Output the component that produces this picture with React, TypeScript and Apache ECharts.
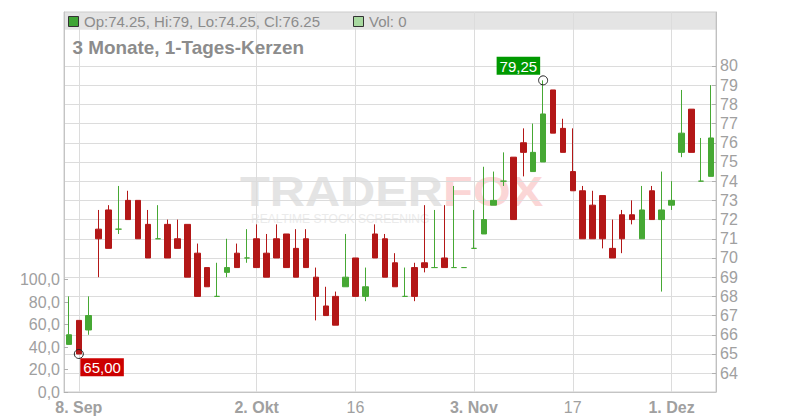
import React, { useEffect, useRef } from "react";
import * as echarts from "echarts";

const categories = [
  "2023-09-07", "2023-09-08", "2023-09-11", "2023-09-12", "2023-09-13", "2023-09-14",
  "2023-09-15", "2023-09-18", "2023-09-19", "2023-09-20", "2023-09-21", "2023-09-22",
  "2023-09-25", "2023-09-26", "2023-09-27", "2023-09-28", "2023-09-29", "2023-09-30",
  "2023-10-01", "2023-10-02", "2023-10-03", "2023-10-04", "2023-10-05", "2023-10-06",
  "2023-10-09", "2023-10-10", "2023-10-11", "2023-10-12", "2023-10-13", "2023-10-16",
  "2023-10-17", "2023-10-18", "2023-10-19", "2023-10-20", "2023-10-23", "2023-10-24",
  "2023-10-25", "2023-10-26", "2023-10-27", "2023-10-30", "2023-10-31", "2023-11-03",
  "2023-11-06", "2023-11-07", "2023-11-08", "2023-11-09", "2023-11-10", "2023-11-13",
  "2023-11-14", "2023-11-15", "2023-11-16", "2023-11-17", "2023-11-20", "2023-11-21",
  "2023-11-22", "2023-11-23", "2023-11-24", "2023-11-27", "2023-11-28", "2023-11-29",
  "2023-11-30", "2023-12-01", "2023-12-04", "2023-12-05", "2023-12-06", "2023-12-07",
];

const opens = [
  65.5, 66.75, 66.25, 71.5, 72.5, 71.5, 73, 73, 71.75, 71, 71.75, 71,
  71.75, 70.25, 69.5, 68, 69.25, 70.25, 70, 71, 70.25, 71, 71.25, 70.5,
  71, 69, 67.5, 68, 68.5, 70, 68, 71.25, 71, 69.75, 68, 69.5,
  69.75, 69.5, 70, 69.5, 69.5, 70.5, 71.25, 72.75, 74, 75.25, 76, 74.5,
  75, 78.75, 76.75, 74.5, 73.5, 72.75, 73.25, 70.5, 72.25, 72.25, 71, 73.5,
  72, 72.75, 75.5, 77.75, 74, 74.25,
];
const highs = [
  68, 66.75, 68, 72.5, 72.75, 73.75, 73.5, 73, 72.5, 72.75, 72, 72,
  71.75, 70.75, 69.5, 69.75, 71, 70.75, 71.5, 71.75, 71.25, 71.75, 71.25, 71.5,
  71.5, 69.5, 68.5, 68.25, 71.25, 70, 69.5, 71.75, 71.25, 70.25, 69.5, 69.75,
  72.75, 72.5, 72.75, 73.75, 69.5, 72.5, 74.75, 74.5, 75.5, 75.25, 76.75, 77,
  79.25, 78.75, 77.25, 76.75, 73.75, 73.5, 73.25, 72, 72.5, 73, 73.75, 73.75,
  74.5, 74, 78.75, 77.75, 76.25, 79,
];
const lows = [
  65.5, 65, 66, 69, 70.5, 71.25, 72, 71, 70, 71, 70, 70.5,
  69, 68, 68.5, 68, 69, 69.5, 69.75, 69.5, 69, 70, 69.5, 69,
  69.5, 66.75, 67, 66.5, 68.5, 68, 67.75, 70, 69, 68.5, 68, 67.75,
  69.25, 69.5, 69.5, 69.5, 69.5, 70.5, 71.25, 72.75, 73.75, 72, 74.25, 74.5,
  75, 76.5, 75.5, 73.5, 71, 71, 70.5, 70, 70.25, 71.75, 71, 72,
  68.25, 72.5, 75.25, 75.5, 74, 74.25,
];
const closes = [
  66, 65, 67, 71, 70.5, 71.5, 72, 71, 70, 71, 70, 70.5,
  69, 68, 68.5, 68, 69.5, 69.5, 70, 69.5, 69, 70, 69.5, 69,
  69.5, 68, 67, 66.5, 69, 68, 68.5, 70, 69, 68.5, 68, 68,
  69.5, 69.5, 69.5, 69.5, 69.5, 70.5, 72, 73, 74, 72, 75.5, 75.5,
  77.5, 76.5, 75.5, 73.5, 71, 71, 71, 70, 71, 72, 72.5, 72,
  72.5, 73, 76.5, 75.5, 74, 76.25,
];
const volumes = [
  0, 0, 0, 0, 0, 0, 0, 0, 0, 0, 0, 0, 0, 0, 0, 0, 0, 0, 0, 0, 0, 0,
  0, 0, 0, 0, 0, 0, 0, 0, 0, 0, 0, 0, 0, 0, 0, 0, 0, 0, 0, 0, 0, 0,
  0, 0, 0, 0, 0, 0, 0, 0, 0, 0, 0, 0, 0, 0, 0, 0, 0, 0, 0, 0, 0, 0,
];

const priceTicks = [64, 65, 66, 67, 68, 69, 70, 71, 72, 73, 74, 75, 76, 77, 78, 79, 80];
const volumeTicks = [0, 20, 40, 60, 80, 100];
const xTickIndices = [1, 19, 29, 41, 51, 61];
const xTickLabels = ["8. Sep", "2. Okt", "16", "3. Nov", "17", "1. Dez"];
const xTickBold = [true, true, false, true, false, true];

const TITLE = "3 Monate, 1-Tages-Kerzen";
const UP = "#46a834";
const DOWN = "#b31717";
const FONT = "'Liberation Sans', Arial, Helvetica, sans-serif";

const fmtDe = (v: number) => v.toFixed(2).replace(".", ",");

export default function App() {
  const ref = useRef<HTMLDivElement>(null);

  useEffect(() => {
    if (!ref.current) return;
    const chart = echarts.init(ref.current, undefined, { renderer: "svg" });

    const candleData = opens.map((o, i) => {
      const c = closes[i];
      const item: any = { value: [o, c, lows[i], highs[i]] };
      if (o === c) {
        item.itemStyle = { color: UP, color0: UP, borderColor: UP, borderColor0: UP };
      }
      return item;
    });

    const hiVal = Math.max(...highs);
    const hiIdx = highs.indexOf(hiVal);
    const loVal = Math.min(...lows);
    const loIdx = lows.indexOf(loVal);
    const last = opens.length - 1;
    const headerText = `Op:${opens[last]}, Hi:${highs[last]}, Lo:${lows[last]}, Cl:${closes[last]}`;
    const volText = `Vol: ${volumes[last]}`;

    const option: any = {
      animation: false,
      textStyle: { fontFamily: FONT },
      grid: {
        left: 64,
        right: 84,
        top: 12,
        bottom: 28,
        show: true,
        borderColor: "#cccccc",
        borderWidth: 1,
        backgroundColor: "transparent",
      },
      xAxis: [
        {
          type: "category",
          data: categories,
          boundaryGap: true,
          position: "bottom",
          axisLine: { show: true, onZero: false, lineStyle: { color: "#c4c4c4" } },
          axisTick: { show: false },
          axisLabel: { show: false },
          splitLine: { show: false },
        },
        {
          type: "value",
          position: "bottom",
          min: -0.5,
          max: categories.length - 0.5,
          axisLine: { show: false, onZero: false },
          axisTick: { show: false, customValues: xTickIndices },
          splitLine: { show: true, lineStyle: { color: "#dcdcdc", width: 1 } },
          axisLabel: {
            show: true,
            customValues: xTickIndices,
            margin: 7,
            formatter: (v: number) => {
              const k = xTickIndices.indexOf(Math.round(v));
              if (k < 0) return "";
              return xTickBold[k] ? `{b|${xTickLabels[k]}}` : `{n|${xTickLabels[k]}}`;
            },
            rich: {
              b: { fontSize: 16, fontWeight: "bold", color: "#a0a0a0", fontFamily: FONT, lineHeight: 16 },
              n: { fontSize: 16, color: "#a0a0a0", fontFamily: FONT, lineHeight: 16 },
            },
          },
        },
      ],
      yAxis: [
        {
          type: "value",
          position: "right",
          min: 63.02,
          max: 82.81,
          axisLine: { show: true, onZero: false, lineStyle: { color: "#c0c0c0" } },
          axisTick: {
            show: true,
            inside: true,
            length: 4,
            customValues: priceTicks,
            lineStyle: { color: "#b0b0b0" },
          },
          axisLabel: {
            show: true,
            customValues: priceTicks,
            margin: 4,
            color: "#a0a0a0",
            fontSize: 16,
            fontFamily: FONT,
            formatter: (v: number) => String(Math.round(v)),
          },
          splitLine: { show: true, lineStyle: { color: "#dcdcdc", width: 1 } },
        },
        {
          type: "value",
          position: "left",
          min: 0,
          max: 338,
          axisLine: { show: true, onZero: false, lineStyle: { color: "#c4c4c4" } },
          axisTick: {
            show: true,
            inside: true,
            length: 4,
            customValues: volumeTicks,
            lineStyle: { color: "#b0b0b0" },
          },
          axisLabel: {
            show: true,
            customValues: volumeTicks,
            margin: 4,
            color: "#a0a0a0",
            fontSize: 16,
            fontFamily: FONT,
            formatter: (v: number) => v.toFixed(1).replace(".", ","),
          },
          splitLine: { show: false },
        },
      ],
      series: [
        {
          name: "Vol",
          type: "bar",
          xAxisIndex: 0,
          yAxisIndex: 1,
          data: volumes,
          barWidth: 6,
          itemStyle: { color: "#a8d9a0" },
          silent: true,
        },
        {
          name: "Kurs",
          type: "candlestick",
          xAxisIndex: 0,
          yAxisIndex: 0,
          data: candleData,
          barWidth: 6,
          z: 3,
          silent: true,
          itemStyle: {
            color: UP,
            color0: DOWN,
            borderColor: UP,
            borderColor0: DOWN,
            borderWidth: 1,
          },
        },
        {
          name: "Extrema",
          type: "scatter",
          xAxisIndex: 0,
          yAxisIndex: 0,
          symbol: "circle",
          symbolSize: 9,
          z: 6,
          silent: true,
          itemStyle: {
            color: "rgba(255,255,255,0)",
            borderColor: "#222222",
            borderWidth: 1,
            opacity: 1,
          },
          label: {
            show: true,
            color: "#ffffff",
            opacity: 1,
            fontSize: 15,
            fontFamily: FONT,
            padding: [2, 3, 1, 3],
            formatter: (p: any) => fmtDe(p.value[1]),
          },
          data: [
            {
              value: [hiIdx, hiVal],
              label: { position: [-41.5, -18.5], backgroundColor: "#009900" },
            },
            {
              value: [loIdx, loVal],
              label: { position: [6.5, 9.2], backgroundColor: "#cc0000" },
            },
          ],
        },
      ],
      graphic: [
        {
          type: "rect",
          z: -1,
          silent: true,
          shape: { x: 64, y: 12, width: 652, height: 17.7 },
          style: { fill: "#e4e4e4" },
        },
        {
          type: "text",
          z: -1,
          silent: true,
          x: 240,
          y: 191.7,
          scaleX: 1.16,
          style: {
            text: "TRADER",
            fill: "#e4e4e4",
            font: `bold 42px ${FONT}`,
            textAlign: "left",
            textVerticalAlign: "middle",
          },
        },
        {
          type: "text",
          z: -1,
          silent: true,
          x: 443,
          y: 191.7,
          scaleX: 1.16,
          style: {
            text: "FOX",
            fill: "#fbd6d6",
            font: `bold 42px ${FONT}`,
            textAlign: "left",
            textVerticalAlign: "middle",
          },
        },
        {
          type: "text",
          z: -1,
          silent: true,
          x: 251,
          y: 219.3,
          scaleX: 1.0,
          style: {
            text: "REALTIME STOCK SCREENING",
            fill: "#ebebeb",
            font: `12px ${FONT}`,
            textAlign: "left",
            textVerticalAlign: "middle",
          },
        },
        {
          type: "rect",
          z: 10,
          silent: true,
          shape: { x: 68.5, y: 16.5, width: 10, height: 10 },
          style: { fill: "#3fa535", stroke: "#333333", lineWidth: 1 },
        },
        {
          type: "text",
          z: 10,
          silent: true,
          x: 84,
          y: 21,
          style: {
            text: headerText,
            fill: "#8c8c8c",
            font: `15px ${FONT}`,
            textAlign: "left",
            textVerticalAlign: "middle",
          },
        },
        {
          type: "rect",
          z: 10,
          silent: true,
          shape: { x: 353.5, y: 16.5, width: 10, height: 10 },
          style: { fill: "#a8d9a0", stroke: "#333333", lineWidth: 1 },
        },
        {
          type: "text",
          z: 10,
          silent: true,
          x: 369,
          y: 21,
          style: {
            text: volText,
            fill: "#8c8c8c",
            font: `15px ${FONT}`,
            textAlign: "left",
            textVerticalAlign: "middle",
          },
        },
        {
          type: "text",
          z: 10,
          silent: true,
          x: 72.5,
          y: 47.8,
          scaleX: 1.05,
          style: {
            text: TITLE,
            fill: "#8c8c8c",
            font: `bold 18px ${FONT}`,
            textAlign: "left",
            textVerticalAlign: "middle",
          },
        },
      ],
    };

    chart.setOption(option);
    return () => chart.dispose();
  }, []);

  return (
    <div
      ref={ref}
      style={{ position: "fixed", left: 0, top: 0, width: 800, height: 420, background: "#ffffff" }}
    />
  );
}
